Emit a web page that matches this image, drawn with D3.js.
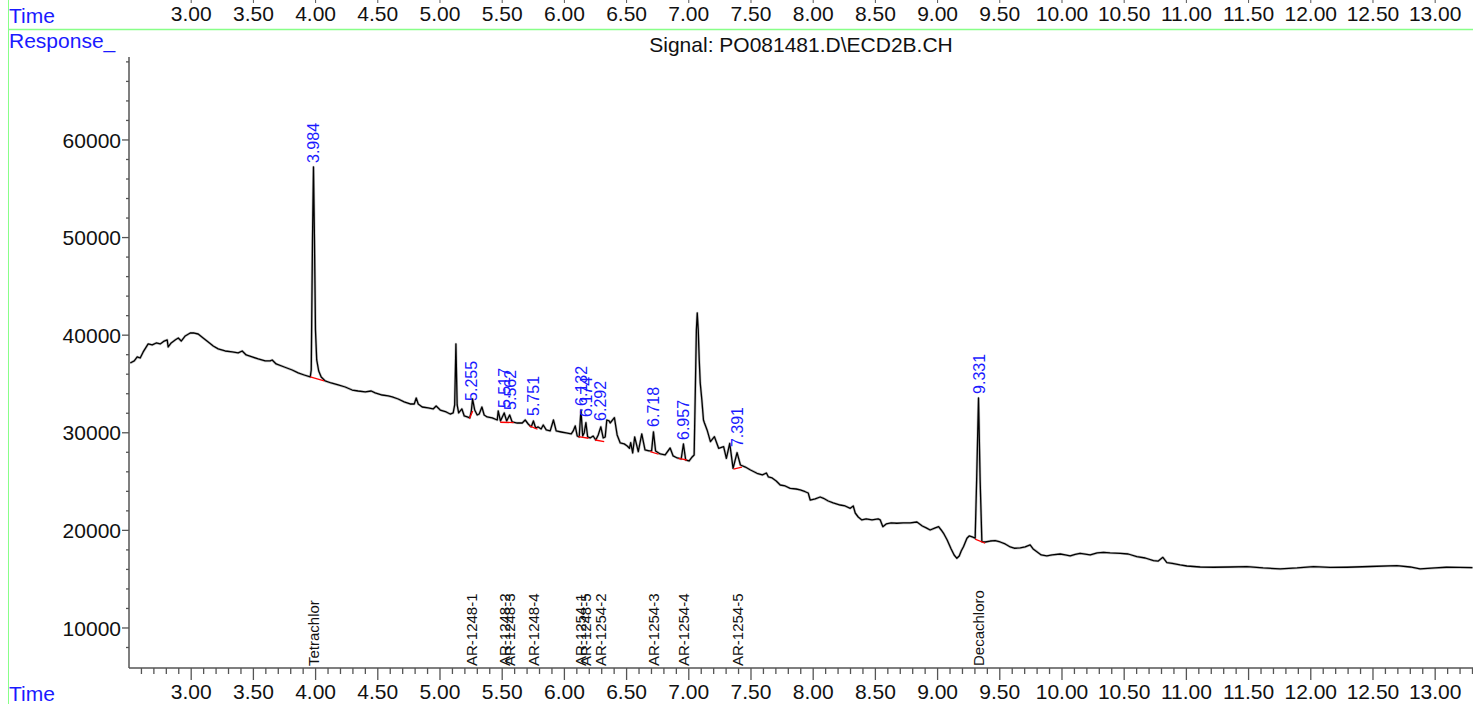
<!DOCTYPE html>
<html><head><meta charset="utf-8">
<script src="https://cdn.jsdelivr.net/npm/d3@7"></script>
<style>
body{margin:0;background:#fff}
svg{display:block}
text{font-family:"Liberation Sans",Arial,sans-serif}
</style>
</head><body>
<svg id="c" width="1473" height="704"></svg>
<script>
// ---- data ----
const traceTime = [2.510,2.542,2.566,2.590,2.614,2.654,2.687,2.719,2.751,2.783,2.807,2.815,2.839,2.871,2.896,2.920,2.952,2.992,3.024,3.056,3.096,3.137,3.177,3.217,3.273,3.330,3.378,3.410,3.442,3.490,3.539,3.595,3.635,3.651,3.683,3.748,3.812,3.860,3.908,3.957,
3.965,3.975,3.983,3.991,3.999,4.009,4.025,4.045,4.077,
4.125,4.182,4.238,4.294,4.342,4.399,4.447,4.479,4.535,4.584,4.616,4.664,4.712,4.760,4.793,4.809,4.825,4.857,4.905,4.945,4.969,5.002,5.050,5.082,5.106,
5.118,5.128,5.138,5.150,5.176,5.195,5.219,5.239,5.251,5.262,5.279,5.299,5.315,5.337,5.355,5.379,5.420,5.460,
5.468,5.486,5.516,5.536,5.560,5.580,5.621,5.661,5.685,5.709,5.733,5.751,5.769,5.789,5.813,5.830,5.854,5.886,5.912,5.934,5.974,6.014,6.055,6.071,6.087,6.103,6.119,
6.133,6.147,6.159,6.173,6.187,6.207,6.231,6.252,6.272,6.293,6.312,6.328,6.341,6.360,6.368,6.402,6.424,6.449,6.481,6.505,
6.523,6.533,6.549,6.565,6.594,6.622,6.648,6.681,6.701,6.716,6.733,6.770,6.810,6.850,6.874,6.907,6.939,6.957,6.975,7.003,7.027,7.043,
7.054,7.061,7.068,7.076,7.084,7.092,7.105,7.118,7.126,7.147,7.174,7.206,7.240,7.280,7.302,7.329,7.356,7.388,7.415,7.455,7.496,7.548,7.592,7.624,7.640,7.670,7.703,7.735,7.775,7.815,7.863,7.896,7.936,7.960,7.976,
8.016,8.056,8.083,8.121,8.161,8.217,8.257,8.298,8.322,8.338,8.362,8.391,8.426,8.473,8.522,8.539,8.560,8.587,8.627,8.673,8.723,8.780,8.834,8.877,8.909,8.940,8.981,9.008,9.029,9.048,9.077,9.109,9.133,9.155,9.174,9.190,9.208,9.236,9.254,9.279,9.302,
9.314,9.329,9.342,9.356,9.383,9.423,9.463,9.503,9.543,9.584,9.616,9.664,9.704,9.744,9.768,9.798,9.833,9.878,9.921,9.986,10.026,10.066,10.106,10.146,10.227,10.283,10.334,10.387,10.468,10.532,10.602,10.669,10.736,10.774,10.811,10.843,10.886,10.950,
11.004,11.111,11.218,11.352,11.486,11.617,11.754,11.890,12.022,12.156,12.290,12.477,12.692,12.799,12.879,13.000,13.090,13.196,13.300];
const traceResponse = [37150,37360,37770,37660,38280,39100,39000,39200,39100,39400,39510,38790,39200,39510,39710,39400,39920,40220,40220,40120,39710,39300,38890,38590,38380,38280,38180,38380,37970,37770,37560,37360,37360,37460,37050,36740,36430,36130,35920,35720,
36430,49750,57230,49750,40530,37460,36330,35720,35310,
35100,34900,34690,34380,34280,34180,34280,34080,33870,33770,33670,33460,33160,32950,32950,33560,32950,32640,32540,32440,32740,32330,32130,31920,32030,
32850,39100,32850,32030,32440,31720,31620,31520,32130,33460,32330,31820,31920,32640,31820,31620,31520,31310,
32230,31210,32030,31210,31820,31110,31000,31000,31310,30900,30600,31210,30490,30600,30390,30800,30290,30190,31310,30190,30080,29980,29880,30190,30700,29670,29570,
32340,29670,29980,31040,29570,29470,29670,29260,29780,30610,29470,29570,31310,31210,31000,31550,29780,28960,28860,28650,
28410,28990,27930,29570,28060,29880,28240,28140,28140,30090,28140,27830,27730,28440,27630,27420,27320,28850,27210,27110,27520,27730,
35410,40530,42270,40530,37460,35100,33360,31310,31000,30290,29090,29600,28410,28580,27380,28920,26360,27960,26700,26490,26190,25850,25680,25880,25470,25370,25060,24650,24550,24310,24240,24140,23960,23830,23110,
23220,23420,23290,23010,22810,22600,22500,22260,22500,21780,21370,21070,21170,21070,21170,21070,20380,20660,20760,20730,20760,20760,20860,20450,20250,20040,20250,20380,20040,19700,19020,18090,17480,17140,17380,17890,18330,19190,19430,19330,19190,
25160,33570,25160,18840,18810,18910,18960,18810,18610,18300,18170,18200,18300,18510,18100,17820,17480,17380,17480,17580,17480,17380,17530,17650,17480,17690,17750,17690,17650,17580,17310,17170,16900,16860,17240,16700,16620,16460,
16350,16250,16220,16250,16290,16150,16050,16150,16290,16200,16220,16300,16380,16250,16050,16150,16220,16200,16180];

const peakTimes   = [3.984,5.255,5.517,5.562,5.751,6.132,6.174,6.292,6.718,6.957,7.391,9.331];
const peakLabelLevel = [57640,33260,32540,32340,31720,32750,31620,31210,30600,29260,28540,33980];
const compoundNames = ["Tetrachlor","AR-1248-1","AR-1248-2","AR-1248-3","AR-1248-4","AR-1254-1","AR-1248-5","AR-1254-2","AR-1254-3","AR-1254-4","AR-1254-5","Decachloro"];
// integration baselines: [startTime, startResp, endTime, endResp]
const baselines = [
  [3.957,35720,4.069,35310],[5.237,31470,5.263,32240],[5.484,31080,5.592,31040],
  [5.719,30700,5.784,30360],[6.113,29600,6.194,29440],[6.248,29260,6.320,29090],
  [6.690,28070,6.757,27800],[6.917,27370,6.985,27210],[7.359,26270,7.427,26480],
  [9.302,19100,9.382,18680]];
const xTickLabels = ["3.00","3.50","4.00","4.50","5.00","5.50","6.00","6.50","7.00","7.50","8.00","8.50","9.00","9.50","10.00","10.50","11.00","11.50","12.00","12.50","13.00"];
const yTickValues = [10000,20000,30000,40000,50000,60000];
const signalTitle = "Signal: PO081481.D\\ECD2B.CH";

// ---- drawing ----
const svg = d3.select("#c");
const x = d3.scaleLinear().domain([2.5, 13.3]).range([129, 1472.5]);
const y = d3.scaleLinear().domain([5900, 68500]).range([668, 57]);
const axisCol = "#555";
const blue = "#1a1aff";

// frame lines (green)
svg.append("line").attr("x1",8.5).attr("x2",8.5).attr("y1",0).attr("y2",704).attr("stroke","#88ff88").attr("stroke-width",1);
svg.append("line").attr("x1",8).attr("x2",1473).attr("y1",29.5).attr("y2",29.5).attr("stroke","#88ff88").attr("stroke-width",1.5);

// bottom axis
const xMajor = xTickLabels.map(Number);
const xMinor = d3.range(26, 134).map(d => d/10).filter(d => Math.abs(d*2 - Math.round(d*2)) > 1e-6);
const gx = svg.append("g").attr("transform","translate(0,668)");
gx.append("line").attr("x1",129).attr("x2",1473).attr("stroke",axisCol).attr("stroke-width",1.5);
gx.selectAll(".mj").data(xMajor).join("line").attr("x1",d=>x(d)).attr("x2",d=>x(d)).attr("y1",0).attr("y2",12).attr("stroke",axisCol).attr("stroke-width",1.3);
gx.selectAll(".mn").data(xMinor).join("line").attr("x1",d=>x(d)).attr("x2",d=>x(d)).attr("y1",0).attr("y2",6).attr("stroke",axisCol).attr("stroke-width",1.3);
svg.selectAll(".xbl").data(xTickLabels).join("text").attr("x",d=>x(+d)).attr("y",699).attr("text-anchor","middle").attr("font-size",21).attr("fill","#111").text(d=>d);

// top axis labels and small ticks
svg.selectAll(".xtl").data(xTickLabels).join("text").attr("x",d=>x(+d)).attr("y",21).attr("text-anchor","middle").attr("font-size",21).attr("fill","#111").text(d=>d);
svg.selectAll(".xtt").data(xMajor).join("line").attr("x1",d=>x(d)).attr("x2",d=>x(d)).attr("y1",0).attr("y2",3).attr("stroke",axisCol);

// left axis
const yMinor = d3.range(8000, 68001, 2000).filter(d => d % 10000 !== 0);
const gy = svg.append("g");
gy.append("line").attr("x1",129).attr("x2",129).attr("y1",57).attr("y2",668).attr("stroke",axisCol).attr("stroke-width",1.5);
gy.selectAll(".ymj").data(yTickValues).join("line").attr("x1",122).attr("x2",129).attr("y1",d=>y(d)).attr("y2",d=>y(d)).attr("stroke",axisCol).attr("stroke-width",1.3);
gy.selectAll(".ymn").data(yMinor).join("line").attr("x1",126).attr("x2",129).attr("y1",d=>y(d)).attr("y2",d=>y(d)).attr("stroke",axisCol).attr("stroke-width",1.3);
svg.selectAll(".yl").data(yTickValues).join("text").attr("x",121).attr("y",d=>y(d)).attr("dy","0.36em").attr("text-anchor","end").attr("font-size",21).attr("fill","#111").text(d=>d);

// captions
svg.append("text").attr("x",9).attr("y",23).attr("font-size",21).attr("fill",blue).text("Time");
svg.append("text").attr("x",9).attr("y",701).attr("font-size",21).attr("fill",blue).text("Time");
svg.append("text").attr("x",9).attr("y",48).attr("font-size",21).attr("fill",blue).text("Response_");
svg.append("text").attr("x",801).attr("y",52).attr("text-anchor","middle").attr("font-size",21).attr("fill","#111").text(signalTitle);

// trace
const pts = traceTime.map((t,i)=>[t, traceResponse[i]]);
const line = d3.line().x(d=>x(d[0])).y(d=>y(d[1]));
svg.append("path").datum(pts).attr("d",line).attr("fill","none").attr("stroke","#999").attr("stroke-width",2.6).attr("stroke-opacity",0.6).attr("stroke-linejoin","round");
svg.append("path").datum(pts).attr("d",line).attr("fill","none").attr("stroke","#000").attr("stroke-width",1.3).attr("stroke-linejoin","round");

// integration baselines
svg.selectAll(".bl").data(baselines).join("line")
  .attr("x1",d=>x(d[0])).attr("y1",d=>y(d[1])).attr("x2",d=>x(d[2])).attr("y2",d=>y(d[3]))
  .attr("stroke","#ff0000").attr("stroke-width",1.3);

// peak retention time labels
svg.selectAll(".pl").data(peakTimes).join("text")
  .attr("transform",(d,i)=>`translate(${x(d)},${y(peakLabelLevel[i])}) rotate(-90)`)
  .attr("dy","0.36em").attr("font-size",16).attr("fill",blue).text(d=>d.toFixed(3));

// compound names
svg.selectAll(".cn").data(compoundNames).join("text")
  .attr("transform",(d,i)=>`translate(${x(peakTimes[i])},${y.range()[0]-2}) rotate(-90)`)
  .attr("dy","0.36em").attr("font-size",15).attr("fill","#111").text(d=>d);
</script>
</body></html>
